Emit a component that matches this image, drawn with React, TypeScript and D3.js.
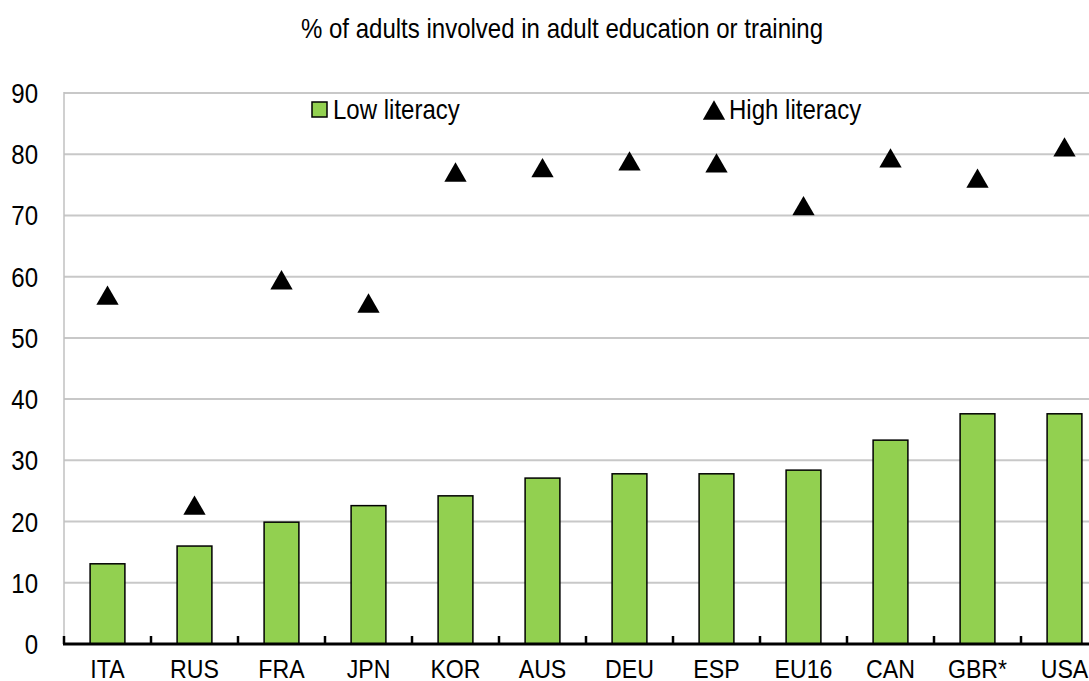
import React from "react";
import * as d3 from "d3";

const categories = ["ITA", "RUS", "FRA", "JPN", "KOR", "AUS", "DEU", "ESP", "EU16", "CAN", "GBR*", "USA"];
const lowLiteracy = [13.1, 16.0, 19.9, 22.6, 24.2, 27.1, 27.8, 27.8, 28.4, 33.3, 37.6, 37.6];
const highLiteracy = [57.0, 22.7, 59.5, 55.7, 77.1, 77.8, 78.9, 78.6, 71.6, 79.4, 76.1, 81.2];
const yTicks = [0, 10, 20, 30, 40, 50, 60, 70, 80, 90];
const title = "% of adults involved in adult education or training";

const W = 1089;
const H = 681;
const left = 64;
const bandW = 87;
const top = 93;
const bottom = 644;
const font = "'Liberation Sans', Arial, sans-serif";
const SX = 0.89;

// triangle centred on its bounding box
const bboxTriangle = {
  draw(ctx: any, size: number) {
    const side = Math.sqrt((size * 4) / Math.sqrt(3));
    const h = (side * Math.sqrt(3)) / 2;
    ctx.moveTo(0, -h / 2);
    ctx.lineTo(side / 2, h / 2);
    ctx.lineTo(-side / 2, h / 2);
    ctx.closePath();
  },
};

function NText({ x, y, anchor = "start", size = 27, children }: any) {
  return (
    <text
      transform={`translate(${x},${y}) scale(${SX},1)`}
      textAnchor={anchor}
      fontFamily={font}
      fontSize={size}
      fill="#000"
    >
      {children}
    </text>
  );
}

export default function App() {
  const x = d3
    .scaleBand<string>()
    .domain(categories)
    .range([left, left + bandW * categories.length])
    .paddingInner(0.6)
    .paddingOuter(0.3);
  const y = d3.scaleLinear().domain([0, 90]).range([bottom, top]);
  const tri = d3.symbol().type(bboxTriangle as any).size(215)() as string;

  return (
    <svg width={W} height={H} style={{ position: "absolute", left: 0, top: 0, overflow: "hidden", background: "#fff" }}>
      <NText x={562} y={38} anchor="middle" size={27}>
        {title}
      </NText>
      {yTicks.map((t) => (
        <g key={t}>
          {t > 0 && <line x1={left} x2={W} y1={y(t)} y2={y(t)} stroke="#c8c8c8" strokeWidth={2} />}
          <NText x={38} y={y(t) + 10} anchor="end" size={27}>
            {t}
          </NText>
        </g>
      ))}
      <line x1={left} x2={left} y1={top - 1} y2={bottom} stroke="#c0c0c0" strokeWidth={1.5} />
      {categories.map((c, i) => (
        <rect
          key={c}
          x={x(c)}
          y={y(lowLiteracy[i])}
          width={x.bandwidth()}
          height={bottom - y(lowLiteracy[i])}
          fill="#92d050"
          stroke="#000"
          strokeWidth={1.5}
        />
      ))}
      {categories.map((c, i) => (
        <path
          key={c}
          d={tri}
          transform={`translate(${(x(c) as number) + x.bandwidth() / 2},${y(highLiteracy[i])})`}
          fill="#000"
        />
      ))}
      <line x1={left - 1} x2={W} y1={bottom} y2={bottom} stroke="#000" strokeWidth={3} />
      {categories.map((c, i) => (
        <line key={c} x1={left + bandW * i} x2={left + bandW * i} y1={bottom} y2={bottom - 8} stroke="#000" strokeWidth={2.5} />
      ))}
      {categories.map((c) => (
        <NText key={c} x={(x(c) as number) + x.bandwidth() / 2} y={678} anchor="middle" size={26}>
          {c}
        </NText>
      ))}
      <rect x={312} y={102} width={15} height={15} fill="#92d050" stroke="#000" strokeWidth={1.5} />
      <NText x={333} y={119} size={27}>
        Low literacy
      </NText>
      <path d={tri} transform={`translate(714,${110})`} fill="#000" />
      <NText x={729} y={119} size={27}>
        High literacy
      </NText>
    </svg>
  );
}
